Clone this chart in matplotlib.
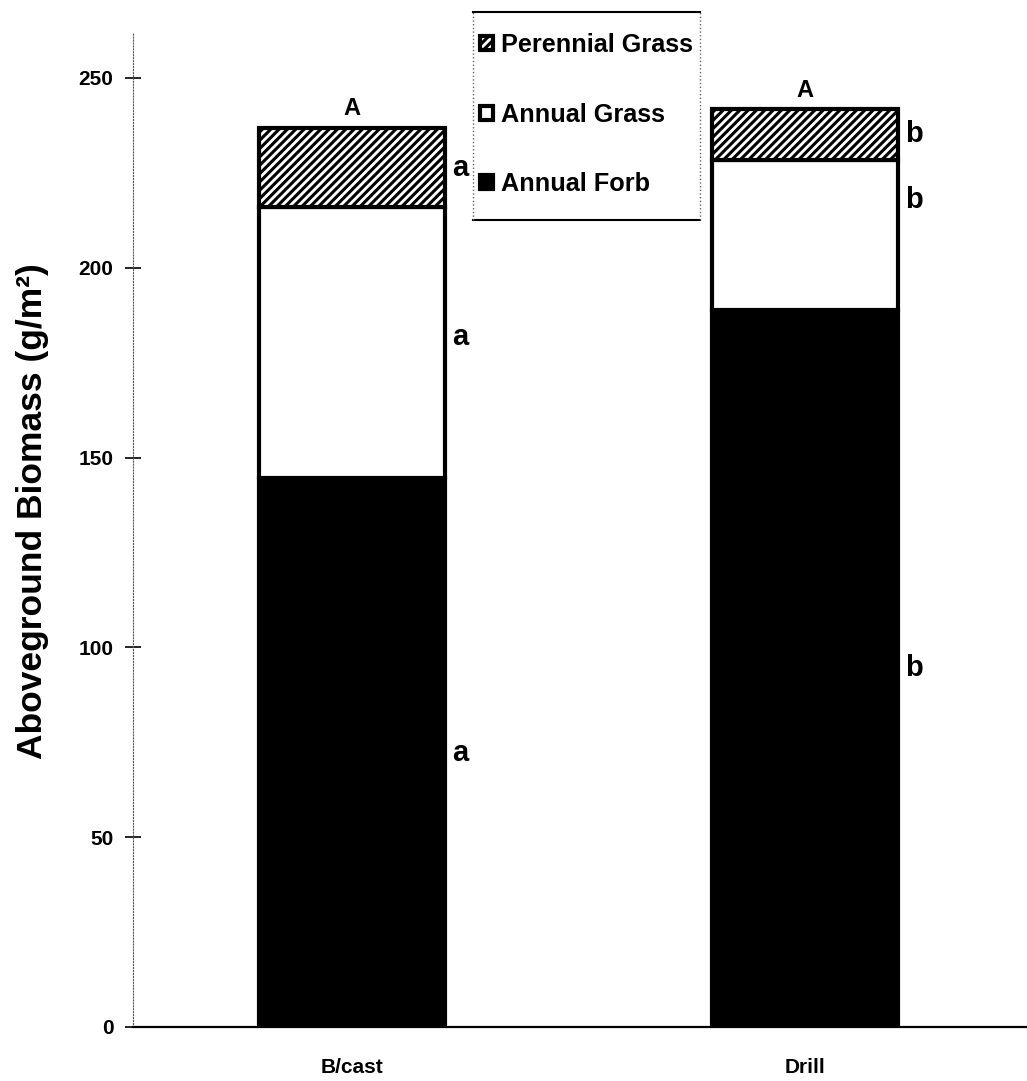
import matplotlib.pyplot as plt
from matplotlib.lines import Line2D

plt.rcParams['font.family'] = ['Liberation Sans', 'DejaVu Sans']
plt.rcParams['font.weight'] = 'bold'
plt.rcParams['hatch.linewidth'] = 2.2

treatments = ["B/cast", "Drill"]
annual_forb = [144.5, 189.0]
annual_grass = [71.5, 39.5]
perennial_grass = [20.8, 13.3]
total_letters = ["A", "A"]
forb_letters = ["a", "b"]
grass_letters = ["a", "b"]
perennial_letters = ["a", "b"]

fig = plt.figure(figsize=(10.27, 10.81), dpi=100)
ax = fig.add_axes([0.1295, 0.05, 0.8705, 0.92])

x = list(range(len(treatments)))
w = 0.41
b1 = ax.bar(x, annual_forb, w, color='black', edgecolor='black', linewidth=3, label='Annual Forb')
b2 = ax.bar(x, annual_grass, w, bottom=annual_forb, color='white', edgecolor='black', linewidth=3, label='Annual Grass')
bottom3 = [a + g for a, g in zip(annual_forb, annual_grass)]
b3 = ax.bar(x, perennial_grass, w, bottom=bottom3, color='white', edgecolor='black',
            hatch='////', linewidth=3, label='Perennial Grass')

# where the letter sits along the annual grass segment
grass_frac = [0.52, 0.73]
for i in x:
    top = bottom3[i] + perennial_grass[i]
    ax.text(i, top + 2, total_letters[i], ha='center', va='bottom', fontsize=17, fontweight='bold')
    xr = i + w / 2 + 0.035
    ax.text(xr, annual_forb[i] / 2, forb_letters[i], ha='center', va='center', fontsize=21, fontweight='bold')
    ax.text(xr, annual_forb[i] + annual_grass[i] * grass_frac[i], grass_letters[i], ha='center', va='center', fontsize=21, fontweight='bold')
    ax.text(xr, bottom3[i] + perennial_grass[i] / 2, perennial_letters[i], ha='center', va='center', fontsize=21, fontweight='bold')

ax.set_xlim(-0.483, 1.49)
ax.set_ylim(0, 262)
ax.set_yticks([0, 50, 100, 150, 200, 250])
ax.set_xticks(x)
ax.set_xticklabels(treatments, fontsize=15, fontweight='bold')
ax.tick_params(axis='x', length=0, pad=22)
ax.tick_params(axis='y', direction='inout', length=12, width=1.2, labelsize=15, pad=8)
for lab in ax.get_yticklabels():
    lab.set_fontweight('bold')

ax.spines['top'].set_visible(False)
ax.spines['right'].set_visible(False)
ax.spines['left'].set_linestyle(':')
ax.spines['left'].set_color('0.35')
ax.spines['bottom'].set_linewidth(1.6)

ax.set_ylabel("Aboveground Biomass (g/m²)", fontsize=25.5, fontweight='bold')
ax.yaxis.set_label_coords(-0.094, 0.519)

leg = fig.legend([b3, b2, b1], ['Perennial Grass', 'Annual Grass', 'Annual Forb'],
                 loc='upper left', bbox_to_anchor=(0.4555, 0.981),
                 labelspacing=1.8, handlelength=0.5, handleheight=0.5, handletextpad=0.3,
                 borderpad=0.0, frameon=False, prop={'weight': 'bold', 'size': 18.2})

# legend box: solid top and bottom, dotted sides
bl, br, bt, bb = 0.4606, 0.6816, 0.9889, 0.7965
fig.add_artist(Line2D([bl, br], [bt, bt], color='black', lw=1.5))
fig.add_artist(Line2D([bl, br], [bb, bb], color='black', lw=1.5))
fig.add_artist(Line2D([bl, bl], [bb, bt], color='0.4', lw=1, ls=':'))
fig.add_artist(Line2D([br, br], [bb, bt], color='0.4', lw=1, ls=':'))

fig.savefig("out.png", dpi=100)
